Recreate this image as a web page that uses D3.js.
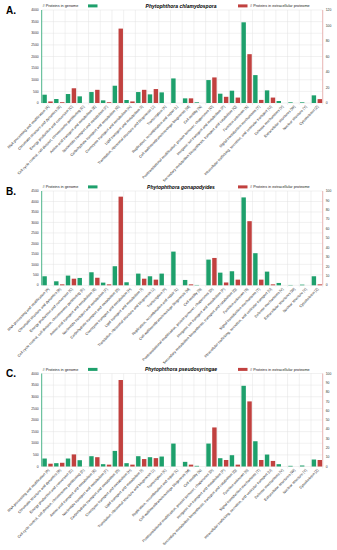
<!DOCTYPE html>
<html>
<head>
<meta charset="utf-8">
<script src="https://cdn.jsdelivr.net/npm/d3@7"></script>
<style>
  body { margin: 0; background: #fff; }
  svg { display: block; font-family: "Liberation Sans", Arial, sans-serif; }
</style>
</head>
<body>
<div id="chart"></div>
<script>
// COG categories (x axis)
var categories = [
  "RNA processing and modification [A]",
  "Chromatin structure and dynamics [B]",
  "Energy production and conversion [C]",
  "Cell cycle control, cell division, chromosome partitioning [D]",
  "Amino acid transport and metabolism [E]",
  "Nucleotide transport and metabolism [F]",
  "Carbohydrate transport and metabolism [G]",
  "Coenzyme transport and metabolism [H]",
  "Lipid transport and metabolism [I]",
  "Translation, ribosomal structure and biogenesis [J]",
  "Transcription [K]",
  "Replication, recombination and repair [L]",
  "Cell wall/membrane/envelope biogenesis [M]",
  "Cell motility [N]",
  "Posttranslational modification, protein turnover, chaperones [O]",
  "Inorganic ion transport and metabolism [P]",
  "Secondary metabolites biosynthesis, transport and catabolism [Q]",
  "Function unknown [S]",
  "Signal transduction mechanisms [T]",
  "Intracellular trafficking, secretion, and vesicular transport [U]",
  "Defense mechanisms [V]",
  "Extracellular structures [W]",
  "Nuclear structure [Y]",
  "Cytoskeleton [Z]"
];

// # proteins in genome (left axis) / in extracellular proteome (right axis)
var genomeA = [357, 171, 386, 286, 471, 114, 743, 128, 471, 371, 457, 1057, 200, 30, 986, 400, 529, 3471, 1200, 543, 86, 29, 29, 329];
var extraA  = [2, 1, 19, 0, 17, 1, 96, 2, 17, 18, 0, 0, 6, 0, 33, 8, 7, 63, 4, 7, 0, 0, 0, 5];

var genomeB = [431, 191, 463, 351, 622, 128, 910, 144, 558, 431, 558, 1608, 255, 16, 1226, 604, 670, 4194, 1532, 653, 112, 16, 32, 431];
var extraB  = [0, 1, 7, 0, 8, 1, 94, 0, 7, 6, 0, 0, 1, 0, 29, 3, 6, 68, 6, 1, 0, 0, 0, 1];

var genomeC = [343, 143, 343, 271, 443, 100, 671, 143, 443, 400, 429, 986, 200, 29, 986, 357, 486, 3471, 1086, 514, 100, 29, 43, 300];
var extraC  = [3, 4, 13, 0, 10, 2, 93, 2, 8, 9, 0, 0, 2, 0, 42, 7, 2, 70, 7, 6, 0, 0, 0, 7];

var letters = ["A.", "B.", "C."];
var species = ["Phytophthora chlamydospora", "Phytophthora gonapodyides", "Phytophthora pseudosyringae"];
var leftMax = [4000, 4500, 4000];
var rightMax = [120, 100, 100];
var rightStep = [20, 10, 10];

var green = "#1ea06c", red = "#c1413f";

var width = 337, height = 550;
var plotLeft = 41.7, plotRight = 322.7;
var panelTop = [10, 191, 373.5];
var panelHeight = [93, 94.3, 93];

var svg = d3.select("#chart")
    .append("svg")
    .attr("width", width)
    .attr("height", height);

var x0 = d3.scaleBand()
    .domain(categories)
    .range([plotLeft, plotRight])
    .paddingInner(0.12)
    .paddingOuter(0.06);

var x1 = d3.scaleBand()
    .domain(["g", "r"])
    .range([0, x0.bandwidth()])
    .paddingInner(0.25);

var genomes = [genomeA, genomeB, genomeC];
var extras = [extraA, extraB, extraC];

function drawPanel(p) {
    var pTop = panelTop[p], pBottom = pTop + panelHeight[p];
    var g = svg.append("g");

    var yL = d3.scaleLinear().domain([0, leftMax[p]]).range([pBottom, pTop]);
    var yR = d3.scaleLinear().domain([0, rightMax[p]]).range([pBottom, pTop]);
    var leftTicks = d3.range(0, leftMax[p] + 1, 500);
    var rightTicks = d3.range(0, rightMax[p] + 1, rightStep[p]);

    // grid
    g.selectAll(".hg").data(leftTicks).enter().append("line")
        .attr("x1", plotLeft).attr("x2", plotRight)
        .attr("y1", function (d) { return yL(d); })
        .attr("y2", function (d) { return yL(d); })
        .attr("stroke", "#e3e3e3").attr("stroke-width", 0.5);

    var step = (plotRight - plotLeft) / categories.length;
    g.selectAll(".vg").data(d3.range(1, categories.length + 1)).enter().append("line")
        .attr("x1", function (d) { return plotLeft + d * step; })
        .attr("x2", function (d) { return plotLeft + d * step; })
        .attr("y1", pTop).attr("y2", pBottom + 2)
        .attr("stroke", "#e3e3e3").attr("stroke-width", 0.5);

    // bars
    var rows = categories.map(function (c, i) {
        return { cat: c, g: genomes[p][i], r: extras[p][i] };
    });

    g.selectAll(".gbar").data(rows).enter().append("rect")
        .attr("x", function (d) { return x0(d.cat) + x1("g"); })
        .attr("y", function (d) { return yL(d.g); })
        .attr("width", x1.bandwidth())
        .attr("height", function (d) { return pBottom - yL(d.g); })
        .attr("fill", green);

    g.selectAll(".rbar").data(rows).enter().append("rect")
        .attr("x", function (d) { return x0(d.cat) + x1("r"); })
        .attr("y", function (d) { return yR(d.r); })
        .attr("width", x1.bandwidth())
        .attr("height", function (d) { return pBottom - yR(d.r); })
        .attr("fill", red);

    // axes
    g.append("line").attr("x1", plotLeft).attr("x2", plotLeft)
        .attr("y1", pTop).attr("y2", pBottom)
        .attr("stroke", green).attr("stroke-width", 0.8);
    g.append("line").attr("x1", plotRight).attr("x2", plotRight)
        .attr("y1", pTop).attr("y2", pBottom)
        .attr("stroke", "#e9a7a6").attr("stroke-width", 0.8);

    g.selectAll(".lt").data(leftTicks).enter().append("text")
        .attr("x", plotLeft - 3)
        .attr("y", function (d) { return yL(d); })
        .attr("dy", "0.35em")
        .attr("text-anchor", "end")
        .attr("font-size", 3.4)
        .attr("fill", "#333")
        .text(function (d) { return d; });

    g.selectAll(".rt").data(rightTicks).enter().append("text")
        .attr("x", plotRight + 3)
        .attr("y", function (d) { return yR(d); })
        .attr("dy", "0.35em")
        .attr("font-size", 3.4)
        .attr("fill", "#333")
        .text(function (d) { return d; });

    // category labels
    g.selectAll(".cl").data(categories).enter().append("text")
        .attr("transform", function (d) {
            return "translate(" + (x0(d) + x0.bandwidth() / 2 + 1) + "," + (pBottom + 3) + ") rotate(-46)";
        })
        .attr("text-anchor", "end")
        .attr("dy", "0.35em")
        .attr("font-size", 3.6)
        .attr("fill", "#222")
        .text(function (d) { return d; });

    // header: panel letter, legend, title
    svg.append("text")
        .attr("x", 6).attr("y", pTop + 3.5)
        .attr("font-size", 10).attr("font-weight", "bold")
        .text(letters[p]);

    svg.append("text")
        .attr("x", 42.5).attr("y", pTop - 2.8)
        .attr("font-size", 3.8).attr("fill", "#222")
        .text("# Proteins in genome");
    svg.append("rect")
        .attr("x", 88).attr("y", pTop - 5.6).attr("width", 9.5).attr("height", 3)
        .attr("fill", green);

    svg.append("text")
        .attr("x", 181).attr("y", pTop - 2.5)
        .attr("text-anchor", "middle")
        .attr("font-size", 5).attr("font-weight", "bold").attr("font-style", "italic")
        .text(species[p]);

    svg.append("rect")
        .attr("x", 238).attr("y", pTop - 5.6).attr("width", 9.5).attr("height", 3)
        .attr("fill", red);
    svg.append("text")
        .attr("x", 250).attr("y", pTop - 2.8)
        .attr("font-size", 3.8).attr("fill", "#222")
        .text("# Proteins in extracellular proteome");
}

for (var p = 0; p < 3; p++) drawPanel(p);
</script>
</body>
</html>
